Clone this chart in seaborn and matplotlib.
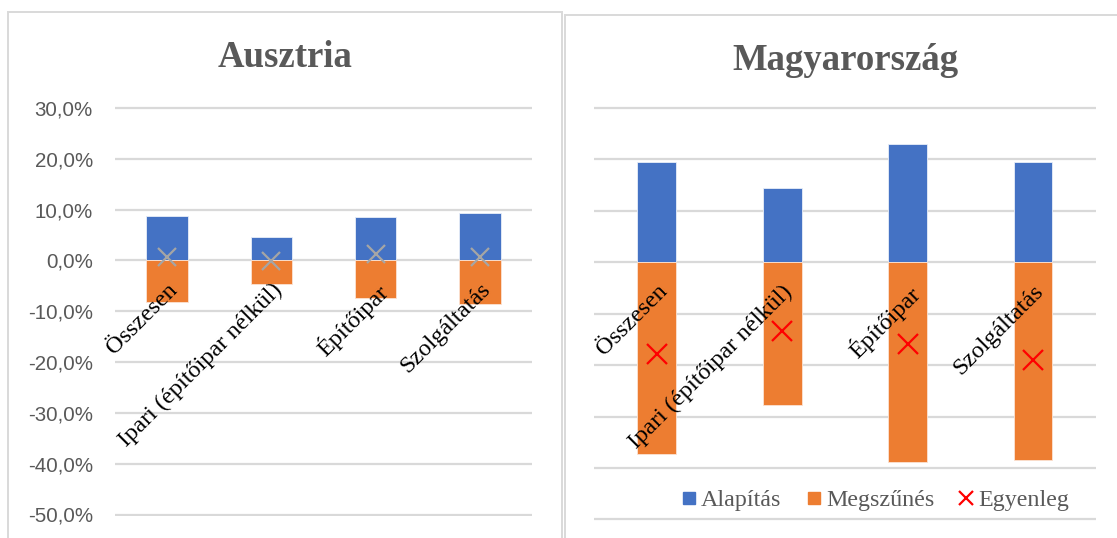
import numpy as np
import pandas as pd
import matplotlib
matplotlib.use("Agg")
import matplotlib.pyplot as plt
from matplotlib.patches import Rectangle
from matplotlib.lines import Line2D
import seaborn as sns

# ---- data ----
categories = ["Összesen", "Ipari (építőipar nélkül)", "Építőipar", "Szolgáltatás"]
at_alapitas = [8.8, 4.6, 8.6, 9.3]
at_megszunes = [-8.1, -4.7, -7.3, -8.6]
at_egyenleg = [0.7, -0.1, 1.3, 0.7]
hu_alapitas = [19.4, 14.5, 22.9, 19.5]
hu_megszunes = [-37.3, -27.8, -38.8, -38.5]
hu_egyenleg = [-17.9, -13.3, -15.9, -19.0]
yticks = [30, 20, 10, 0, -10, -20, -30, -40, -50]
ytick_labels = ["30,0%", "20,0%", "10,0%", "0,0%", "-10,0%", "-20,0%", "-30,0%", "-40,0%", "-50,0%"]
series_names = ["Alapítás", "Megszűnés", "Egyenleg"]
titles = ["Ausztria", "Magyarország"]

BLUE = "#4472C4"
ORANGE = "#ED7D31"
GRID = "#D9D9D9"
TXT = "#595959"

sns.set_theme(style="white")
plt.rcParams["font.family"] = ["Liberation Serif", "DejaVu Serif"]

W, H = 1117, 538
fig = plt.figure(figsize=(W / 100, H / 100), dpi=100)

def fx(px):
    return px / W

def fy(py):
    return 1 - py / H

# panel borders
fig.patches.append(Rectangle((fx(8), fy(560)), fx(562) - fx(8), fy(12) - fy(560),
                             transform=fig.transFigure, fill=False, edgecolor=GRID, lw=1.4))
fig.patches.append(Rectangle((fx(565), fy(560)), fx(1140) - fx(565), fy(15) - fy(560),
                             transform=fig.transFigure, fill=False, edgecolor=GRID, lw=1.4))

YLIM = (-50.3, 30.3)

def make_ax(l, r, top, bot):
    span = 80.0
    ppu = (bot - top) / span
    ytop = top - 0.3 * ppu
    ybot = bot + 0.3 * ppu
    return fig.add_axes([fx(l), fy(ybot), fx(r) - fx(l), fy(ytop) - fy(ybot)])

ax1 = make_ax(115, 532, 108, 514.5)
ax2 = make_ax(594, 1095.7, 107.8, 519.5)

def draw(ax, alap, megsz, egy, width, xcolor, msize, show_y):
    df = pd.DataFrame({"cat": categories, "alap": alap, "megsz": megsz, "egy": egy})
    sns.barplot(data=df, x="cat", y="alap", color=BLUE, saturation=1, width=width,
                ax=ax, linewidth=0.6, edgecolor="#E8EEF8", order=categories)
    sns.barplot(data=df, x="cat", y="megsz", color=ORANGE, saturation=1, width=width,
                ax=ax, linewidth=0.6, edgecolor="#FBE3D3", order=categories)
    sns.pointplot(data=df, x="cat", y="egy", color=xcolor, marker="x", linestyle="none",
                  markersize=msize, markeredgewidth=1.6, errorbar=None, ax=ax,
                  order=categories)
    ax.set_ylim(*YLIM)
    ax.set_xlim(-0.5, 3.5)
    ax.set_yticks(yticks)
    if show_y:
        ax.set_yticklabels(ytick_labels, fontfamily="Liberation Sans", fontsize=14.8, color=TXT)
    else:
        ax.set_yticklabels([])
    ax.tick_params(axis="y", length=0, pad=16)
    ax.yaxis.grid(True, color=GRID, lw=1.6)
    ax.xaxis.grid(False)
    for s in ax.spines.values():
        s.set_visible(False)
    ax.spines["bottom"].set_position(("data", 0))
    ax.tick_params(axis="x", length=0, pad=13.5)
    ax.set_xticks(range(len(categories)))
    ax.set_xticklabels(categories, rotation=45, ha="right", va="top", rotation_mode="anchor",
                       fontsize=17.5, color="black", fontfamily="Liberation Serif")
    ax.set_xlabel("")
    ax.set_ylabel("")
    ax.patch.set_alpha(0)
    # gridlines below bars, category labels above bars
    ax.yaxis.set_zorder(0.5)
    ax.xaxis.set_zorder(6)
    for ln in ax.lines:
        ln.set_zorder(4)

draw(ax1, at_alapitas, at_megszunes, at_egyenleg, 0.40, "#A5A5A5", 13, True)
draw(ax2, hu_alapitas, hu_megszunes, hu_egyenleg, 0.31, "#FF0000", 14, False)

fig.text(fx(285), fy(67), titles[0], ha="center", va="baseline", fontsize=26.5,
         fontweight="bold", color=TXT, fontfamily="Liberation Serif")
fig.text(fx(845), fy(70), titles[1], ha="center", va="baseline", fontsize=26.5,
         fontweight="bold", color=TXT, fontfamily="Liberation Serif")

handles = [
    Line2D([], [], marker="s", linestyle="none", markersize=9, markerfacecolor=BLUE,
           markeredgecolor=BLUE),
    Line2D([], [], marker="s", linestyle="none", markersize=9, markerfacecolor=ORANGE,
           markeredgecolor=ORANGE),
    Line2D([], [], marker="x", linestyle="none", markersize=10, markeredgecolor="#FF0000",
           markeredgewidth=1.6),
]
leg = ax2.legend(handles, series_names, loc="center", bbox_to_anchor=(0.56, 0.05),
                 ncol=3, frameon=False, fontsize=17.3, handlelength=0.7, handletextpad=0.15,
                 columnspacing=1.0, borderaxespad=0)
for t in leg.get_texts():
    t.set_color(TXT)
    t.set_fontfamily("Liberation Serif")

fig.savefig("out.png", dpi=100)
